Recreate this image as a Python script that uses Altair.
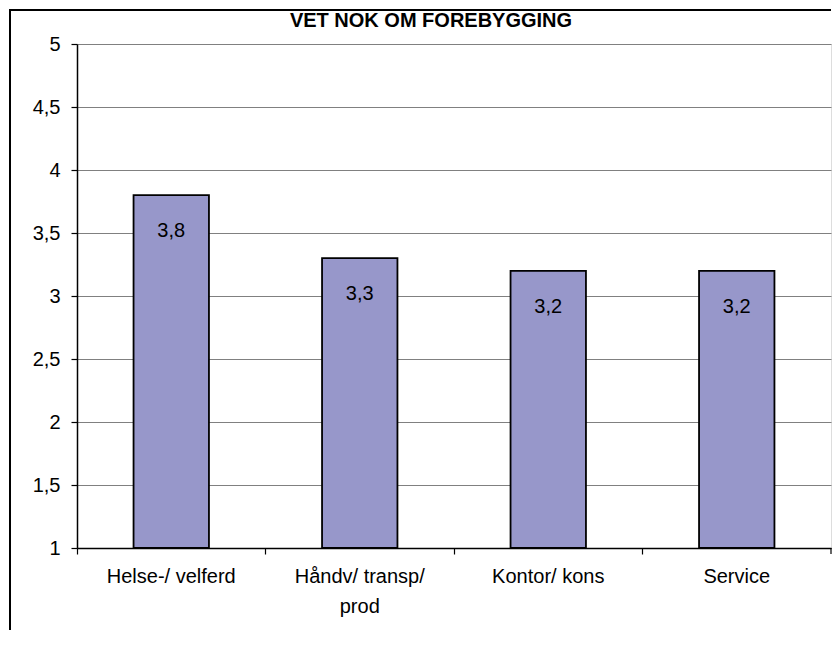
import altair as alt
import pandas as pd

categories = ["Helse-/ velferd", "Håndv/ transp/\nprod", "Kontor/ kons", "Service"]
values = [3.8, 3.3, 3.2, 3.2]
y_ticks = [1, 1.5, 2, 2.5, 3, 3.5, 4, 4.5, 5]
title_text = "VET NOK OM FOREBYGGING"

FONT = "Liberation Sans"
W, H = 754, 504

df = pd.DataFrame({"cat": categories, "value": values})
one = pd.DataFrame({"z": [0]})

x_enc = alt.X(
    "cat:N",
    sort=categories,
    scale=alt.Scale(paddingInner=0, paddingOuter=0),
    axis=alt.Axis(
        title=None, labelAngle=0, bandPosition=0,
        labelExpr="split(datum.label, '\\n')", labelLineHeight=30,
        labelFont=FONT, labelFontSize=20, labelColor="black",
        labelPadding=12, tickSize=6, tickColor="black", domainColor="black",
        domainWidth=1.5, tickWidth=1.2, labelBaseline="top",
    ),
)
y_enc = alt.Y(
    "value:Q",
    scale=alt.Scale(domain=[1, 5], nice=False, zero=False),
    axis=alt.Axis(
        title=None, values=y_ticks, labelExpr="replace(toString(datum.value), '.', ',')",
        labelFont=FONT, labelFontSize=20, labelColor="black", labelPadding=11,
        tickSize=6, tickColor="black", domainColor="black", domainWidth=1.5,
        tickWidth=1.2, grid=True, gridColor="#808080", gridWidth=1.2,
    ),
)

bars = alt.Chart(df).mark_bar(
    width={"band": 0.4}, color="#9797CA", stroke="black", strokeWidth=1.8
).encode(x=x_enc, y=y_enc, y2=alt.datum(1))

labels = alt.Chart(df).mark_text(
    dy=42, baseline="alphabetic", font=FONT, fontSize=20, color="black"
).transform_calculate(
    lab="replace(format(datum.value, '.1f'), '.', ',')"
).encode(x=alt.X("cat:N", sort=categories), y="value:Q", text="lab:N")

title = alt.Chart(one).mark_text(
    font=FONT, fontSize=20, fontWeight="bold", color="black",
    align="center", baseline="alphabetic",
).encode(x=alt.value(354), y=alt.value(-17.5), text=alt.value(title_text))

frame_left = alt.Chart(one).mark_rule(color="black", strokeWidth=2).encode(
    x=alt.value(-67), y=alt.value(-35), y2=alt.value(586)
)
frame_top = alt.Chart(one).mark_rule(color="black", strokeWidth=2).encode(
    x=alt.value(-68), x2=alt.value(W), y=alt.value(-34)
)
last_tick = alt.Chart(one).mark_rule(color="black", strokeWidth=1.2).encode(
    x=alt.value(W), y=alt.value(H), y2=alt.value(H + 6)
)

chart = alt.layer(bars, labels, title, frame_left, frame_top, last_tick).properties(
    width=W, height=H,
    padding={"left": 0, "top": 0, "right": 0, "bottom": 0},
).configure_view(stroke="#808080", strokeWidth=1.2).configure(background="white")

chart.save("out.html", embed_options={"renderer": "svg", "actions": False})
